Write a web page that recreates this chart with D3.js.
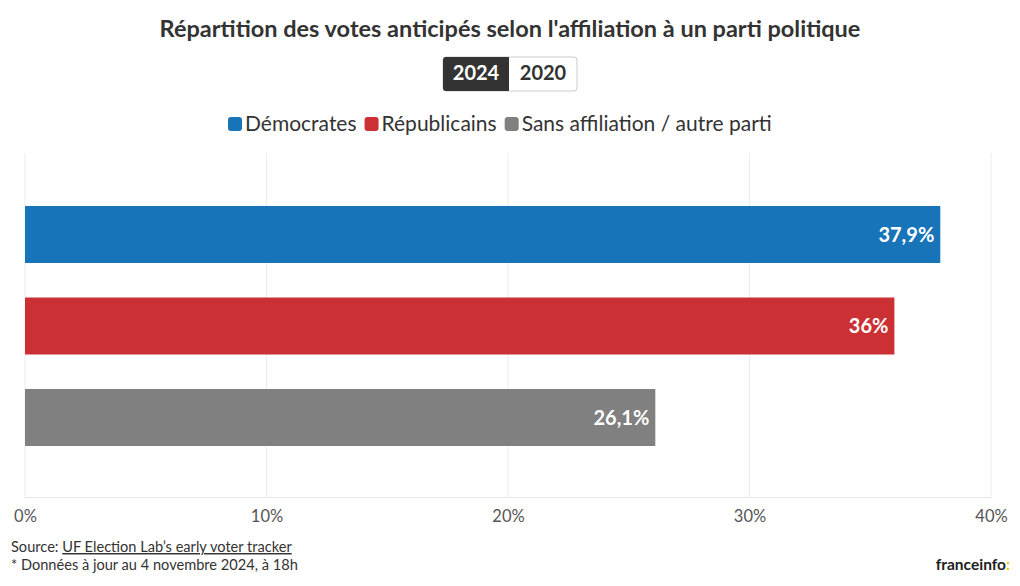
<!DOCTYPE html>
<html><head><meta charset="utf-8">
<script src="https://cdn.jsdelivr.net/npm/d3@7"></script>
<style>
html,body{margin:0;padding:0;background:#fff;}
svg{display:block;font-family:"Lato","Open Sans",sans-serif;}
</style></head>
<body>
<svg id="chart" width="1020" height="586"></svg>
<script>
const categories = ["Démocrates", "Républicains", "Sans affiliation / autre parti"];
const values = [37.9, 36, 26.1];
const valueLabels = ["37,9%", "36%", "26,1%"];
const colors = ["#1874b9", "#cb3035", "#808080"];
const xTicks = [0, 10, 20, 30, 40];
const years = ["2024", "2020"];

const svg = d3.select("#chart");
const W = 1020;

// Title
svg.append("text").attr("x", 510).attr("y", 37).attr("text-anchor","middle")
  .attr("font-size", 23.5).attr("font-weight", 700).attr("fill", "#333")
  .text("Répartition des votes anticipés selon l'affiliation à un parti politique");

// Toggle
const tg = svg.append("g");
tg.append("rect").attr("x", 443).attr("y", 57).attr("width", 134).attr("height", 34)
  .attr("rx", 3).attr("fill", "#fff").attr("stroke", "#ccc");
tg.append("path").attr("d", "M446,57 H509 V91 H446 Q443,91 443,88 V60 Q443,57 446,57 Z").attr("fill", "#333");
tg.append("text").attr("x", 476).attr("y", 80).attr("text-anchor","middle")
  .attr("font-size", 20).attr("font-weight",700).attr("fill","#fff").text(years[0]);
tg.append("text").attr("x", 543).attr("y", 80).attr("text-anchor","middle")
  .attr("font-size", 20).attr("font-weight",700).attr("fill","#333").text(years[1]);

// Legend
const lg = svg.append("g").attr("font-size", 21).attr("fill", "#333");
let lx = 228;
categories.forEach((c, i) => {
  lg.append("rect").attr("x", lx).attr("y", 117).attr("width", 14).attr("height", 14)
    .attr("rx", 3).attr("fill", colors[i]);
  const t = lg.append("text").attr("x", lx + 17).attr("y", 131).attr("fill","#333").text(c);
  lx += 17 + t.node().getComputedTextLength() + 8;
});

// Scales
const x = d3.scaleLinear().domain([0, 40]).range([25, 991]);
const y = d3.scaleBand().domain(categories).range([188.75, 463.25]).paddingInner(0.377).paddingOuter(0.1885);

// Grid
svg.append("g").selectAll("line").data(xTicks).join("line")
  .attr("x1", d => x(d)).attr("x2", d => x(d)).attr("y1", 153).attr("y2", 497)
  .attr("stroke", "#ececec").attr("stroke-width", 1);
svg.append("line").attr("x1", 25).attr("x2", 991).attr("y1", 497.5).attr("y2", 497.5)
  .attr("stroke", "#e6e6e6");

// Bars
svg.append("g").selectAll("rect").data(values).join("rect")
  .attr("x", x(0)).attr("y", (d,i) => y(categories[i]))
  .attr("width", d => x(d) - x(0)).attr("height", y.bandwidth())
  .attr("fill", (d,i) => colors[i]);

svg.append("g").selectAll("text").data(values).join("text")
  .attr("x", d => x(d) - 6).attr("y", (d,i) => y(categories[i]) + y.bandwidth()/2 + 7)
  .attr("text-anchor", "end").attr("font-size", 20).attr("font-weight", 700).attr("fill", "#fff")
  .text((d,i) => valueLabels[i]);

// Axis
const axis = d3.axisBottom(x).tickValues(xTicks).tickFormat(d => d + "%").tickSize(0).tickPadding(0);
const ag = svg.append("g").attr("transform", "translate(0,507)").call(axis);
ag.select(".domain").remove();
ag.selectAll("text").attr("font-size", 16.5).attr("fill", "#555").attr("font-family", "Lato, sans-serif").attr("dy", "0.9em");

// Footer
const src = svg.append("text").attr("x", 11).attr("y", 552).attr("font-size", 14.6).attr("fill", "#333");
src.append("tspan").text("Source: ");
src.append("tspan").attr("text-decoration", "underline").text("UF Election Lab’s early voter tracker");
svg.append("text").attr("x", 11).attr("y", 570).attr("font-size", 14.6).attr("fill", "#333")
  .text("* Données à jour au 4 novembre 2024, à 18h");
const logo = svg.append("text").attr("x", 1010).attr("y", 570).attr("text-anchor", "end")
  .attr("font-size", 15.5).attr("font-weight", 700).attr("fill", "#222");
logo.append("tspan").text("franceinfo");
logo.append("tspan").attr("fill", "#f5c400").text(":");
</script>
</body></html>
